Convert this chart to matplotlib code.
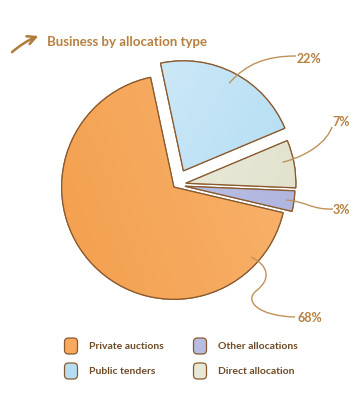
import numpy as np
import matplotlib
matplotlib.use("Agg")
import matplotlib.pyplot as plt
from matplotlib.path import Path
from matplotlib.patches import PathPatch, FancyBboxPatch

# ---- data ----
categories = ["Public tenders", "Direct allocation", "Other allocations", "Private auctions"]
shares = [22, 7, 3, 68]
labels = ["22%", "7%", "3%", "68%"]
colors = ["#B5DEF3", "#E8E8D6", "#B7BCE2", "#F7A95E"]
legend_order = ["Private auctions", "Public tenders", "Other allocations", "Direct allocation"]
title = "Business by allocation type"

W, H = 363, 406
fig = plt.figure(figsize=(W / 100, H / 100), dpi=100)
ax = fig.add_axes([0, 0, 1, 1])

def P(x, y):
    return (x, H - y)

brown = "#8A5A2E"
gold = "#B7803F"
textbrown = "#6E4A26"
FONT = ["Lato", "DejaVu Sans"]

cx, cy = P(176, 186)
R = 110
explode = [16, 10, 9, 3]   # offsets in data (pixel) units
wedges, _ = ax.pie(shares, colors=colors, startangle=102, counterclock=False,
                   radius=R, center=(cx, cy), explode=explode, frame=True,
                   wedgeprops=dict(edgecolor=brown, linewidth=0.9))
wedges[3].set_radius(R * 1.02)

def grad_overlay(w, c1, c2, angle_deg):
    n = 200
    x = np.linspace(0, 1, n)
    X, Y = np.meshgrid(x, x)
    a = np.deg2rad(angle_deg)
    t = X * np.cos(a) + Y * np.sin(a)
    t = (t - t.min()) / (t.max() - t.min())
    c1 = np.array(matplotlib.colors.to_rgb(c1))
    c2 = np.array(matplotlib.colors.to_rgb(c2))
    img = c1[None, None, :] * (1 - t[..., None]) + c2[None, None, :] * t[..., None]
    ext = (cx - 150, cx + 150, cy - 150, cy + 150)
    im = ax.imshow(img, extent=ext, origin="lower", zorder=w.get_zorder() + 0.1,
                   interpolation="bilinear")
    im.set_clip_path(w)
    w2 = matplotlib.patches.Wedge(w.center, w.r, w.theta1, w.theta2,
                                  facecolor="none", edgecolor=brown, linewidth=0.9,
                                  zorder=w.get_zorder() + 0.2)
    ax.add_patch(w2)

grad_overlay(wedges[0], "#A6D7F1", "#DDF0FA", 150)
grad_overlay(wedges[1], "#DCDDC6", "#F3F3E8", 150)
grad_overlay(wedges[2], "#A9AFDB", "#C9CDEB", 150)
grad_overlay(wedges[3], "#F39C48", "#F9B774", 20)
ax.set_xlim(0, W)
ax.set_ylim(0, H)
ax.set_aspect("auto")
ax.axis("off")

def wedge_point(w, frac, ang_off=0.0):
    th1, th2 = w.theta1, w.theta2
    mid = np.deg2rad((th1 + th2) / 2 + ang_off)
    return (w.center[0] + frac * w.r * np.cos(mid), w.center[1] + frac * w.r * np.sin(mid))

anchors = [wedge_point(wedges[0], 0.90, 0),
           wedge_point(wedges[1], 0.90, 2),
           wedge_point(wedges[2], 0.93, 0),
           wedge_point(wedges[3], 0.93, 93.5)]
paths = [
    [P(246, 65), P(266, 57), P(296, 57)],
    [P(310, 156), P(327, 142), P(332, 128)],
    [P(305, 202), P(312, 211), P(333, 210)],
    [P(268, 266), P(272, 280), P(256, 292), P(244, 302), P(258, 317), P(295, 318)],
]
label_pos = [P(297, 59), P(332, 122), P(333, 210), P(297, 318)]

for a, c, lp, lab in zip(anchors, paths, label_pos, labels):
    verts = [a] + c
    codes = [Path.MOVETO] + [Path.CURVE4] * len(c)
    ax.add_patch(PathPatch(Path(verts, codes), facecolor="none", edgecolor="#BF925A",
                           linewidth=1.0, zorder=10))
    ax.text(lp[0], lp[1], lab, ha="left", va="center", fontsize=9.0,
            fontweight="bold", color=gold, family=FONT, zorder=11)

ax.text(47, H - 42, title, ha="left", va="center", fontsize=9.5, fontweight="bold",
        color=gold, family=FONT)
ax.annotate("", xy=P(41, 36), xytext=P(10, 55),
            arrowprops=dict(arrowstyle="->,head_length=0.6,head_width=0.3",
                            color="#B07A3A", lw=1.8,
                            connectionstyle="arc3,rad=-0.1"))

cmap = dict(zip(categories, colors))
pos = [(71, 347), (71, 372), (200, 347), (200, 372)]
for name, (x, y) in zip(legend_order, pos):
    bx, by = P(x, y)
    box = FancyBboxPatch((bx - 6.5, by - 8), 13, 16,
                         boxstyle="round,pad=0,rounding_size=4",
                         facecolor=cmap[name], edgecolor=brown, linewidth=0.9)
    ax.add_patch(box)
    ax.text(bx + 18, by, name, ha="left", va="center", fontsize=7.5,
            fontweight="bold", color=textbrown, family=FONT)

fig.savefig("out.png", dpi=100)
